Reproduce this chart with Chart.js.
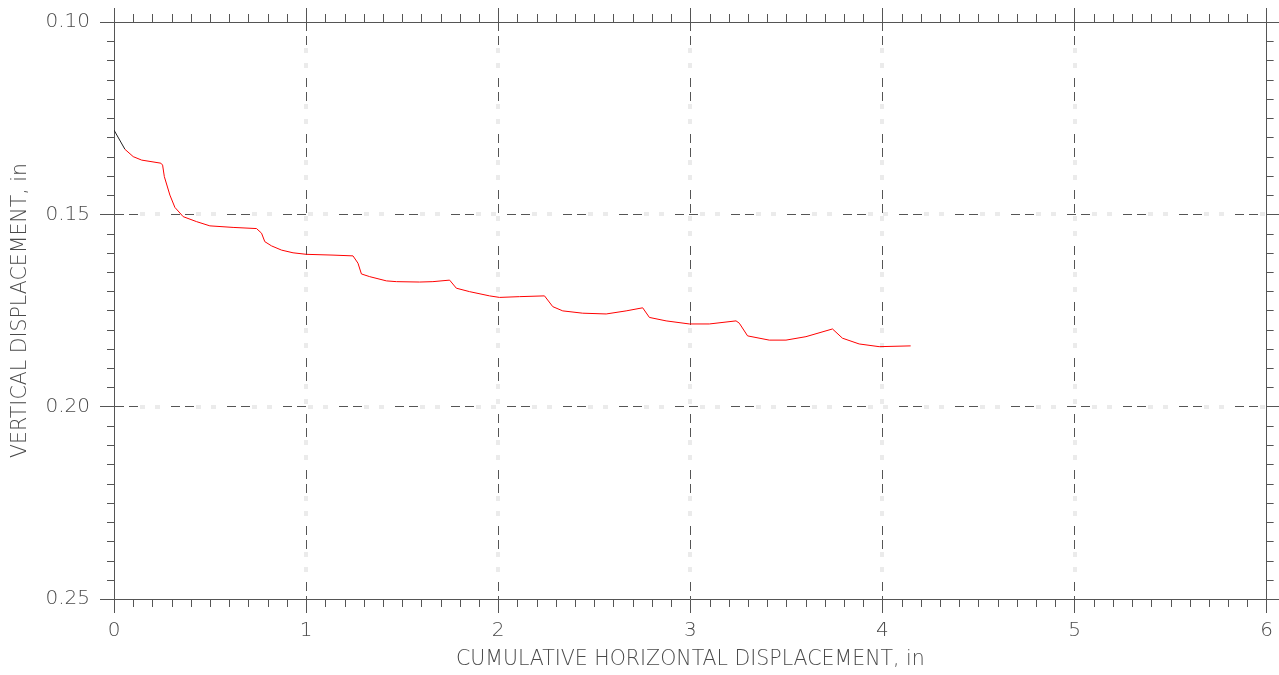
<!DOCTYPE html>
<html>
<head>
<meta charset="utf-8">
<script src="https://cdn.jsdelivr.net/npm/chart.js@4"></script>
<style>
  html, body { margin: 0; padding: 0; background: #fff; }
  #wrap { width: 1279px; height: 675px; }
</style>
</head>
<body>
<div id="wrap"><canvas id="chart" width="1279" height="675"></canvas></div>
<script>
// curve: cumulative horizontal vs vertical displacement (in)
const horiz = [0, 0.057, 0.100, 0.144, 0.244, 0.253, 0.262, 0.291, 0.317, 0.360, 0.430, 0.499,
  0.620, 0.742, 0.768, 0.785, 0.820, 0.872, 0.932, 1.002, 1.140, 1.244, 1.270, 1.288, 1.331,
  1.418, 1.470, 1.591, 1.660, 1.747, 1.782, 1.851, 1.955, 2.007, 2.111, 2.241, 2.284, 2.336,
  2.440, 2.562, 2.666, 2.752, 2.787, 2.874, 2.995, 3.099, 3.238, 3.255, 3.298, 3.411, 3.498,
  3.602, 3.740, 3.792, 3.879, 3.983, 4.147];
const vert = [0.1281, 0.1331, 0.1350, 0.1359, 0.1367, 0.1372, 0.1402, 0.1450, 0.1482, 0.1506, 0.1519, 0.1530,
  0.1534, 0.1537, 0.1549, 0.1571, 0.1582, 0.1593, 0.1600, 0.1604, 0.1606, 0.1608, 0.1627, 0.1655, 0.1662,
  0.1673, 0.1675, 0.1676, 0.1675, 0.1671, 0.1692, 0.1701, 0.1712, 0.1716, 0.1714, 0.1712, 0.1740, 0.1751,
  0.1757, 0.1759, 0.1751, 0.1743, 0.1768, 0.1777, 0.1785, 0.1785, 0.1777, 0.1783, 0.1816, 0.1827, 0.1827,
  0.1818, 0.1798, 0.1822, 0.1837, 0.1844, 0.1842];

const xMin = 0, xMax = 6, xStep = 1, xMinor = 0.1;
const yMin = 0.10, yMax = 0.25, yStep = 0.05, yMinor = 0.005;
const xTitle = "CUMULATIVE HORIZONTAL DISPLACEMENT, in";
const yTitle = "VERTICAL DISPLACEMENT, in";

const axisColor = "#555";
const textColor = "#4a4a4a";
const fontFamily = "'DejaVu Sans', sans-serif";
const darkDash = [9, 5, 9, 33];
const lightDash = [5, 10, 5, 36];

const points = horiz.map((h, i) => ({ x: h, y: vert[i] }));

function fixSize(prop, size) {
  return function (scale) { scale[prop] = size; };
}

function gridColor(lo, hi, col) {
  return ctx => (ctx.tick && (Math.abs(ctx.tick.value - lo) < 1e-6 || Math.abs(ctx.tick.value - hi) < 1e-6)) ? "rgba(0,0,0,0)" : col;
}

// small minor ticks on all four sides
const minorTicks = {
  id: "minorTicks",
  afterDraw(chart) {
    const { ctx, chartArea: a, scales } = chart;
    ctx.save();
    ctx.strokeStyle = axisColor;
    ctx.lineWidth = 1;
    ctx.beginPath();
    const nx = Math.round((xMax - xMin) / xMinor);
    for (let i = 1; i < nx; i++) {
      if (i % 10 === 0) continue;
      const px = Math.round(scales.x.getPixelForValue(xMin + i * xMinor)) + 0.5;
      ctx.moveTo(px, a.bottom); ctx.lineTo(px, a.bottom + 8);
      ctx.moveTo(px, a.top); ctx.lineTo(px, a.top - 8);
    }
    const ny = Math.round((yMax - yMin) / yMinor);
    for (let i = 1; i < ny; i++) {
      if (i % 10 === 0) continue;
      const py = Math.round(scales.y.getPixelForValue(yMin + i * yMinor)) + 0.5;
      ctx.moveTo(a.left, py); ctx.lineTo(a.left - 7, py);
      ctx.moveTo(a.right, py); ctx.lineTo(a.right + 7, py);
    }
    ctx.stroke();
    ctx.restore();
  }
};

new Chart(document.getElementById("chart"), {
  type: "scatter",
  data: {
    datasets: [{
      data: points,
      showLine: true,
      pointRadius: 0,
      borderWidth: 1,
      borderColor: "#ff0000",
      segment: {
        borderColor: c => c.p0DataIndex === 0 ? "#222" : "#ff0000"
      }
    }]
  },
  options: {
    responsive: false,
    animation: false,
    layout: { padding: 0 },
    plugins: { legend: { display: false }, tooltip: { enabled: false } },
    scales: {
      xLight: {
        type: "linear", position: "bottom", min: xMin, max: xMax,
        ticks: { display: false, stepSize: xStep },
        grid: { color: gridColor(xMin, xMax, "#ebebeb"), lineWidth: 4, drawTicks: false },
        border: { display: false, dash: lightDash, dashOffset: -26 },
        afterFit: fixSize("height", 0)
      },
      yLight: {
        type: "linear", position: "left", min: yMin, max: yMax, reverse: true,
        ticks: { display: false, stepSize: yStep },
        grid: { color: gridColor(yMin, yMax, "#ebebeb"), lineWidth: 4, drawTicks: false },
        border: { display: false, dash: lightDash, dashOffset: -26 },
        afterFit: fixSize("width", 0)
      },
      x: {
        type: "linear", position: "bottom", min: xMin, max: xMax,
        ticks: { stepSize: xStep, color: textColor, padding: 6, maxRotation: 0,
          font: { family: fontFamily, size: 20, weight: "200" } },
        grid: { color: gridColor(xMin, xMax, "#555"), tickColor: axisColor, tickLength: 14, lineWidth: 1 },
        border: { color: axisColor, width: 1, dash: darkDash },
        title: { display: true, text: xTitle, color: textColor, padding: { top: 4, bottom: 3 },
          font: { family: fontFamily, size: 20.5, weight: "200" } },
        afterFit: fixSize("height", 76)
      },
      y: {
        type: "linear", position: "left", min: yMin, max: yMax, reverse: true,
        ticks: { stepSize: yStep, color: textColor, padding: 10,
          callback: v => v.toFixed(2),
          font: { family: fontFamily, size: 20, weight: "200" } },
        grid: { color: gridColor(yMin, yMax, "#555"), tickColor: axisColor, tickLength: 14, lineWidth: 1 },
        border: { color: axisColor, width: 1, dash: darkDash },
        title: { display: true, text: yTitle, color: textColor, padding: { top: 8, bottom: 4 },
          font: { family: fontFamily, size: 20.5, weight: "200" } },
        afterFit: fixSize("width", 114)
      },
      x2: {
        type: "linear", position: "top", min: xMin, max: xMax,
        ticks: { display: false, stepSize: xStep },
        grid: { drawOnChartArea: false, tickColor: axisColor, tickLength: 14 },
        border: { color: axisColor, width: 1 },
        afterFit: fixSize("height", 22)
      },
      y2: {
        type: "linear", position: "right", min: yMin, max: yMax, reverse: true,
        ticks: { display: false, stepSize: yStep },
        grid: { drawOnChartArea: false, tickColor: axisColor, tickLength: 14 },
        border: { color: axisColor, width: 1 },
        afterFit: fixSize("width", 11)
      }
    }
  },
  plugins: [minorTicks]
});
</script>
</body>
</html>
